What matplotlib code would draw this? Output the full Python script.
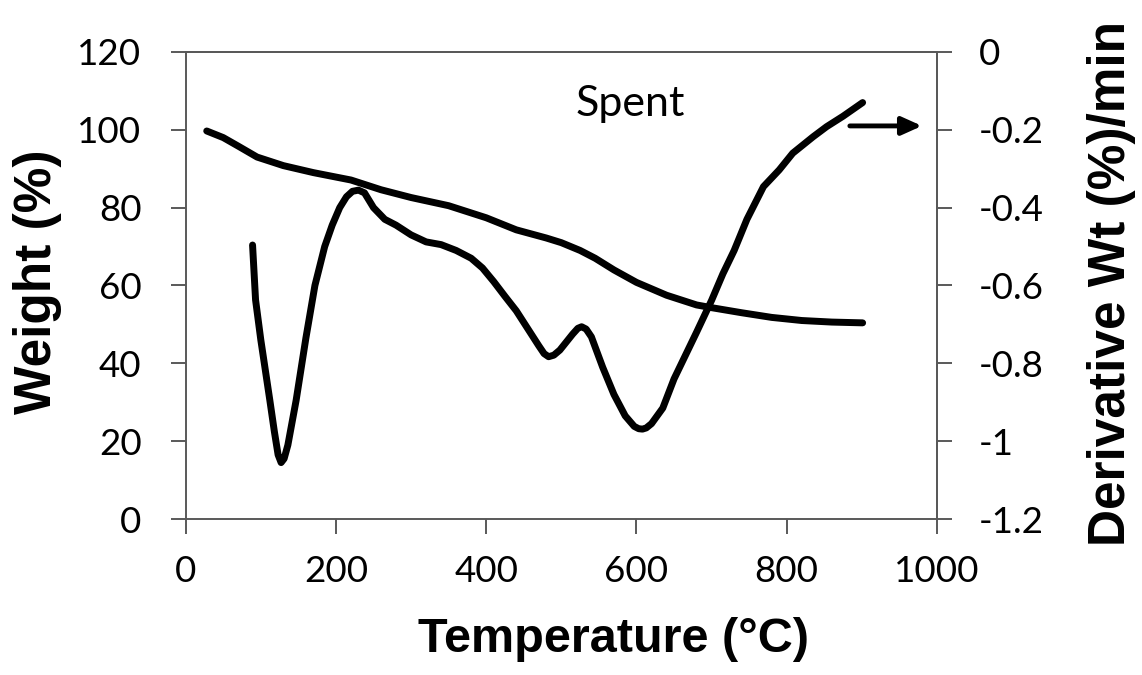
#!/usr/bin/env python3

import matplotlib
matplotlib.use("Agg")
import matplotlib.pyplot as plt

# weight loss curve (left axis)
temp_w = [28, 50, 70, 95, 130, 170, 220, 260, 300, 350, 400, 440, 480, 500,
          525, 545, 570, 600, 640, 680, 700, 740, 780, 820, 860, 901]
weight = [99.7, 98.0, 95.8, 93.0, 90.8, 89.0, 87.1, 84.6, 82.6, 80.5, 77.4,
          74.3, 72.2, 71.0, 69.0, 67.0, 64.0, 60.8, 57.5, 55.0, 54.3, 53.0,
          51.8, 51.0, 50.6, 50.4]

# derivative curve (right axis)
temp_d = [89, 93, 100, 112, 118, 123, 127, 131, 136, 147, 160, 172, 185, 195,
          205, 214, 222, 230, 238, 250, 265, 280, 300, 320, 340, 360, 380,
          395, 410, 425, 440, 455, 470, 477, 483, 490, 498, 515, 522, 527,
          533, 540, 555, 570, 585, 597, 603, 608, 613, 620, 635, 650, 665,
          680, 700, 715, 730, 747, 769, 790, 808, 835, 853, 875, 901]
deriv = [-0.496, -0.637, -0.74, -0.895, -0.975, -1.035, -1.055, -1.045,
         -1.01, -0.895, -0.735, -0.60, -0.50, -0.445, -0.40, -0.372, -0.358,
         -0.355, -0.362, -0.40, -0.43, -0.445, -0.47, -0.488, -0.495, -0.51,
         -0.53, -0.555, -0.59, -0.628, -0.665, -0.71, -0.755, -0.775, -0.783,
         -0.779, -0.766, -0.725, -0.71, -0.706, -0.712, -0.732, -0.81, -0.88,
         -0.935, -0.962, -0.968, -0.969, -0.966, -0.955, -0.915, -0.84,
         -0.78, -0.72, -0.638, -0.57, -0.51, -0.43, -0.346, -0.303, -0.26,
         -0.218, -0.192, -0.165, -0.13]

x_ticks = [0, 200, 400, 600, 800, 1000]
left_ticks = [0, 20, 40, 60, 80, 100, 120]
right_ticks = [-1.2, -1.0, -0.8, -0.6, -0.4, -0.2, 0.0]
right_labels = ['-1.2', '-1', '-0.8', '-0.6', '-0.4', '-0.2', '0']

spine_c = '#595959'

fig = plt.figure(figsize=(11.42, 6.75), dpi=100)
ax = fig.add_axes([0.1626, 0.2311, 0.6579, 0.6919])
ax2 = ax.twinx()

ax.plot(temp_w, weight, color='black', lw=5,
        solid_capstyle='round', solid_joinstyle='round')
ax2.plot(temp_d, deriv, color='black', lw=5,
         solid_capstyle='round', solid_joinstyle='round')

ax.set_xlim(0, 1000)
ax.set_ylim(0, 120)
ax2.set_ylim(-1.2, 0)
ax.set_xticks(x_ticks)
ax.set_yticks(left_ticks)
ax2.set_yticks(right_ticks)
ax2.set_yticklabels(right_labels)

for a in (ax, ax2):
    for s in a.spines.values():
        s.set_color(spine_c)
        s.set_linewidth(1.4)
ax2.spines['left'].set_visible(False)
ax2.spines['bottom'].set_visible(False)

ax.tick_params(axis='x', direction='out', length=10.8, width=1.4, color=spine_c, pad=15)
ax.tick_params(axis='y', direction='out', length=10.8, width=1.4, color=spine_c, pad=21)
ax2.tick_params(axis='y', direction='out', length=10.8, width=1.4, color=spine_c, pad=19)
for lab in ax.get_xticklabels() + ax.get_yticklabels() + ax2.get_yticklabels():
    lab.set_fontfamily('Lato')
    lab.set_fontsize(26.5)

label_font = dict(family='Liberation Sans', weight='bold')
ax.set_xlabel('Temperature (°C)', fontsize=35, **label_font)
ax.xaxis.set_label_coords(0.569, -0.259)
ax.xaxis.label.set_va('center')
ax.set_ylabel('Weight (%)', fontsize=37, **label_font)
ax.yaxis.set_label_coords(-0.197, 0.507)
ax.yaxis.label.set_va('center')
ax2.set_ylabel('Derivative Wt (%)/min', fontsize=37, **label_font)
ax2.yaxis.set_label_coords(1.232, 0.505)
ax2.yaxis.label.set_va('center')

ax.text(592, 103.6, 'Spent', family='Lato', fontsize=31, ha='center', va='baseline')
ax.annotate('', xy=(980, 101), xytext=(884, 101),
            arrowprops=dict(arrowstyle='-|>,head_length=0.6,head_width=0.27',
                            mutation_scale=20, lw=3.5, color='black',
                            shrinkA=0, shrinkB=0))

fig.savefig('out.png', dpi=100)
